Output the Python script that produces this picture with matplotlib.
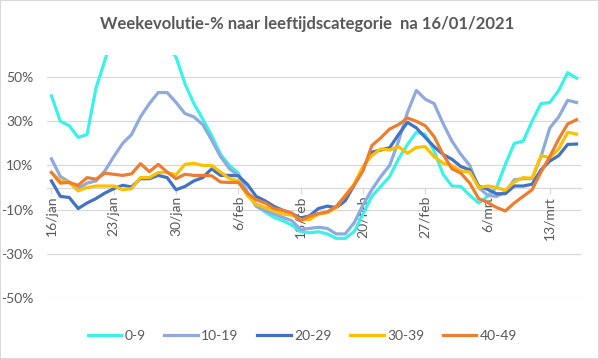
import matplotlib
matplotlib.use("Agg")
import matplotlib.pyplot as plt
from matplotlib.patches import Rectangle

plt.rcParams['font.family'] = ['Lato', 'DejaVu Sans']

tick_labels = ["16/jan", "23/jan", "30/jan", "6/feb", "13/feb", "20/feb", "27/feb", "6/mrt", "13/mrt"]
series_names = ["0-9", "10-19", "20-29", "30-39", "40-49"]

v_0_9 = [41.5, 30, 28, 22.7, 24, 45, 57.5, 70, 76, 80, 82, 80, 75, 64,
         59, 47, 38, 31, 23.5, 15, 10, 6.5, -2.5, -8, -11, -13.5, -15, -17,
         -20, -20.5, -20, -21, -23, -23, -20, -12, -4, 0.5, 5, 13, 19.5, 25,
         24, 16.5, 6, 0.7, 0.5, -3.5, -7, -4, 0, 10.5, 20, 21, 30, 38, 38.5,
         44, 52, 49.5]
v_10_19 = [13, 5, 2.5, -0.5, 2, 3, 7.5, 14, 20, 24, 32, 38, 43, 43,
           38.5, 33.5, 32, 28.5, 21.5, 14, 8.5, 5.5, -2, -8.5, -10.5, -12, -13.5, -15,
           -19, -18.5, -18, -18.5, -21, -21, -16, -8, -1, 5, 10, 21, 34, 44,
           40, 38, 29, 21, 15, 10, 0, -3.5, -4, -2, 3.5, 4, 4, 14, 27,
           32, 39.5, 38.5]
v_20_29 = [3, -4, -4.5, -9.5, -7, -5, -2.5, -0.5, 1, 0.3, 4, 4, 5.5, 4.5,
           -1, 0.5, 3, 4.5, 8.5, 5.5, 5.5, 5.3, 1.5, -4, -6, -8.5, -10.3, -11.8,
           -13.8, -12.8, -9.5, -8.4, -9.1, -6, 1, 9, 16, 17, 18, 24, 29.5, 27,
           22.7, 18.5, 15, 12.8, 9.5, 8, 0.7, -0.8, -2.8, -2.8, 0.7, 0.7, 1.5, 8, 12,
           14.5, 19.5, 19.7]
v_30_39 = [6.8, 3, 2.3, -1.5, 0, 0.7, 0.7, 0.7, -1, -0.5, 4.5, 4.5, 6.8, 6.8,
           5.8, 10.5, 11, 10, 10, 7, 4, 3, -3.5, -7.6, -9, -10.5, -12, -12.5,
           -14.5, -14.5, -12, -11.4, -9, -3.5, 1.5, 9.5, 14.5, 17.5, 17, 18.5, 15.5, 18.2,
           18.5, 14, 11, 10, 7.5, 7, 0, 0.7, 0, -1.2, 2.5, 4.5, 4.2, 14.4, 13.6,
           17.5, 25, 24.2]
v_40_49 = [6.8, 2, 2.3, 1, 4.5, 3.8, 6.5, 6, 5.5, 6.2, 10.8, 7.2, 10.5, 7,
           4, 6, 5.5, 5.5, 5.3, 2.5, 2.3, 2.3, -2.5, -5.5, -7, -9.5, -10.3, -11.5,
           -15, -13, -11.8, -11, -8.5, -4, 1, 7.5, 19, 22.5, 26.5, 28.5, 31.5, 30,
           28, 23, 15, 8.5, 6.5, 2, -5, -6.8, -9, -10.6, -7, -4, -1, 7, 14,
           22, 28.8, 30.7]

all_values = [v_0_9, v_10_19, v_20_29, v_30_39, v_40_49]
colors = ["#3CF2E8", "#8FAADC", "#4472C4", "#FFC000", "#ED7D31"]
gray = "#595959"
grid_gray = "#D9D9D9"

fig = plt.figure(figsize=(5.99, 3.59), dpi=100)
ax = fig.add_axes([47/599, 1-298/359, (581-47)/599, (298-55)/359])

n = len(v_0_9)
x = list(range(n))
for name, vals, c in zip(series_names, all_values, colors):
    ax.plot(x, vals, color=c, lw=2.3, label=name, zorder=3, solid_joinstyle='round')

ax.set_xlim(-0.5, n - 0.5)
ax.set_ylim(-50, 60)
yt = [-50, -30, -10, 10, 30, 50]
ax.set_yticks(yt)
ax.set_yticklabels([f"{v}%" for v in yt])
for v in yt:
    ax.axhline(v, color=grid_gray, lw=0.9, zorder=1)

ax.set_xticks(list(range(0, n, 7)))
ax.set_xticklabels(tick_labels)

for s in ['top', 'right', 'left']:
    ax.spines[s].set_visible(False)
ax.spines['bottom'].set_position(('data', 0))
ax.spines['bottom'].set_color(grid_gray)
ax.spines['bottom'].set_linewidth(0.9)
ax.spines['bottom'].set_zorder(1)

ax.tick_params(axis='y', length=0, labelsize=10, labelcolor=gray, pad=10)
ax.tick_params(axis='x', length=4, color=grid_gray, width=0.9, direction='out',
               labelsize=10, labelcolor=gray, pad=2, labelrotation=90)
for lbl in ax.get_xticklabels():
    lbl.set_ha('center')
    lbl.set_va('top')
    lbl.set_rotation(90)

fig.text(0.512, 1-24/359, "Weekevolutie-% naar leeftijdscategorie  na 16/01/2021",
         ha='center', va='center', fontsize=12, fontweight='bold', color=gray)

leg = fig.legend(loc='center', bbox_to_anchor=(0.505, 1-336/359), ncol=5, frameon=False,
                 fontsize=10, handlelength=2.4, handletextpad=0.25, columnspacing=1.35,
                 labelcolor=gray)
for h in leg.get_lines():
    h.set_linewidth(2.3)

fig.patches.append(Rectangle((0, 0), 1, 1, transform=fig.transFigure, fill=False,
                             edgecolor=grid_gray, lw=1.5))

fig.savefig("out.png", dpi=100)
